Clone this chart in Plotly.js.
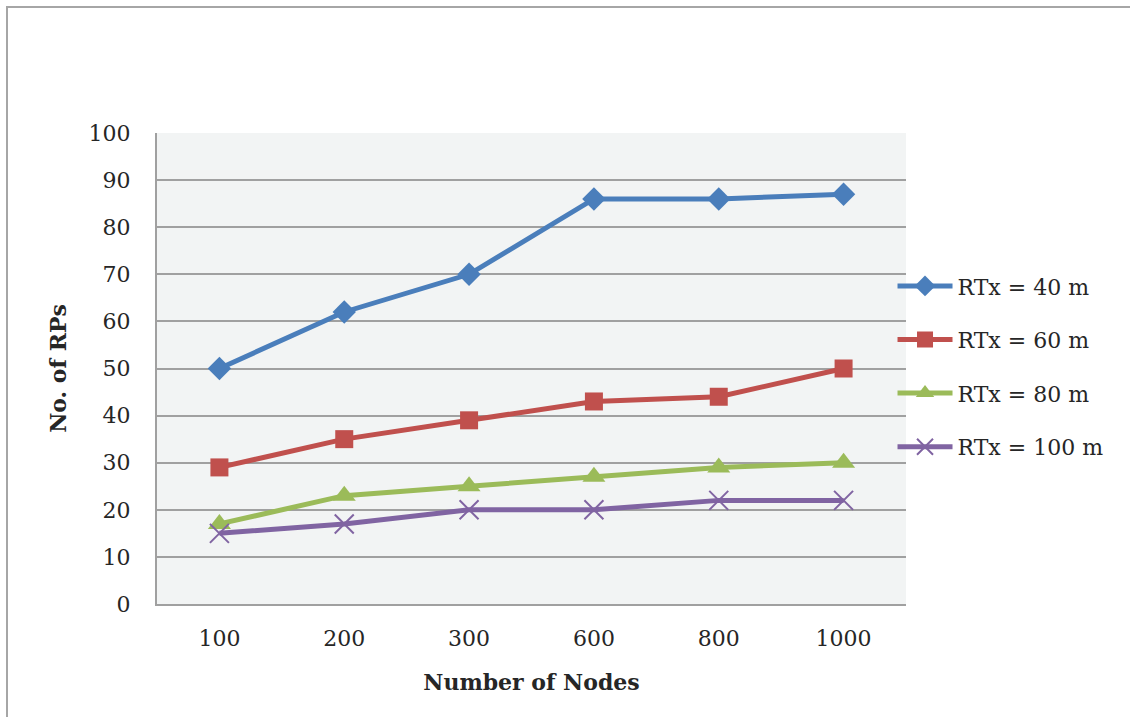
<!DOCTYPE html>
<html>
<head>
<meta charset="utf-8">
<script src="https://cdn.plot.ly/plotly-3.0.1.min.js"></script>
<style>
html,body{margin:0;padding:0;background:#fff;}
#wrap{position:relative;width:1130px;height:717px;}
#frame{position:absolute;left:6px;top:6px;right:-10px;bottom:-10px;border-left:2px solid #A6A6A6;border-top:2px solid #A6A6A6;pointer-events:none;z-index:5;}
#chart{width:1130px;height:717px;}
</style>
</head>
<body>
<div id="wrap"><div id="chart"></div><div id="frame"></div></div>
<script>
const categories = ["100", "200", "300", "600", "800", "1000"];
const seriesNames = ["RTx = 40 m", "RTx = 60 m", "RTx = 80 m", "RTx = 100 m"];
const rtx40 = [50, 62, 70, 86, 86, 87];
const rtx60 = [29, 35, 39, 43, 44, 50];
const rtx80 = [17, 23, 25, 27, 29, 30];
const rtx100 = [15, 17, 20, 20, 22, 22];
const yTicks = [0, 10, 20, 30, 40, 50, 60, 70, 80, 90, 100];

const colors = ["#4A7EBB", "#C0504D", "#9BBB59", "#8064A2"];
const symbols = ["diamond", "square", "triangle-up", "x-thin-open"];
const sizes = [18, 18, 20, 19];
const values = [rtx40, rtx60, rtx80, rtx100];

const traces = values.map((v, i) => ({
  x: categories,
  y: v,
  name: seriesNames[i],
  type: "scatter",
  mode: "lines+markers",
  legendgroup: "g" + i,
  line: {color: colors[i], width: 5},
  marker: symbols[i] === "x-thin-open"
    ? {symbol: symbols[i], size: sizes[i], color: colors[i], line: {color: colors[i], width: 2}}
    : {symbol: symbols[i], size: sizes[i], color: colors[i], line: {width: 0}}
}));

const serif = "DejaVu Serif, Liberation Serif, serif";
const txt = "#262626";
const layout = {
  width: 1130,
  height: 717,
  margin: {l: 157, r: 224, t: 133, b: 113},
  paper_bgcolor: "#ffffff",
  plot_bgcolor: "#F2F4F4",
  font: {family: serif, size: 22, color: txt},
  showlegend: true,
  legend: {
    x: 0.982, xanchor: "left",
    y: 0.504, yanchor: "middle",
    font: {family: serif, size: 22, color: txt},
    traceorder: "grouped",
    tracegroupgap: 22,
    itemwidth: 55,
    bgcolor: "rgba(0,0,0,0)"
  },
  xaxis: {
    type: "category",
    categoryorder: "array",
    categoryarray: categories,
    range: [-0.5, 5.5],
    showgrid: false,
    showline: true,
    linecolor: "#A0A0A0",
    linewidth: 2,
    ticks: "",
    ticklabelstandoff: 14,
    tickfont: {family: serif, size: 22, color: txt},
    title: {text: "<b>Number of Nodes</b>", font: {family: serif, size: 22, color: txt}, standoff: 24},
    zeroline: false,
    fixedrange: true
  },
  yaxis: {
    range: [0, 100],
    tickvals: yTicks,
    showgrid: true,
    gridcolor: "#A0A0A0",
    gridwidth: 2,
    showline: true,
    linecolor: "#A0A0A0",
    linewidth: 2,
    ticks: "",
    ticklabelstandoff: 20,
    tickfont: {family: serif, size: 22, color: txt},
    title: {text: "<b>No. of RPs</b>", font: {family: serif, size: 22, color: txt}, standoff: 16},
    zeroline: false,
    fixedrange: true
  }
};

Plotly.newPlot("chart", traces, layout, {displayModeBar: false, staticPlot: true});
</script>
</body>
</html>
